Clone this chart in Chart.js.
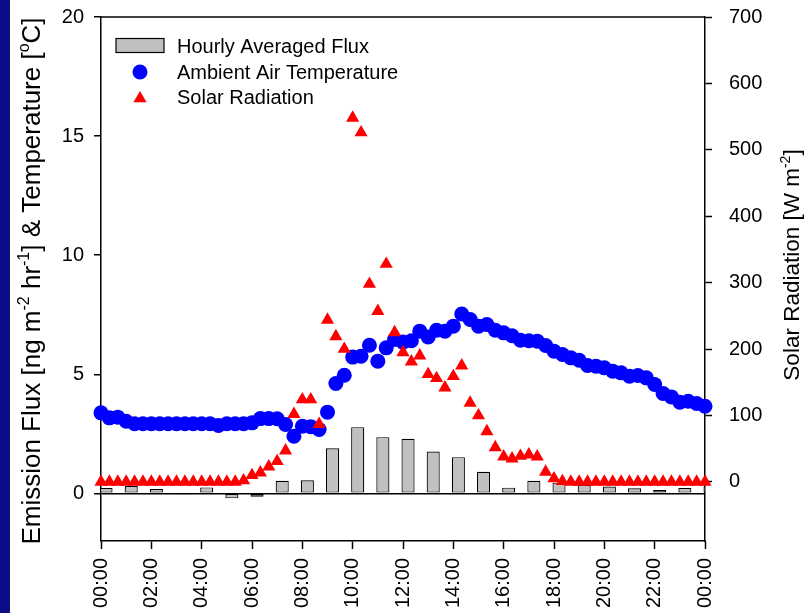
<!DOCTYPE html>
<html lang="en">
<head>
<meta charset="UTF-8">
<title>Emission Flux, Air Temperature and Solar Radiation</title>
<script src="https://cdn.jsdelivr.net/npm/chart.js@4/dist/chart.umd.min.js"></script>
<style>
  html, body { margin: 0; padding: 0; background: #fff; }
  canvas { display: block; }
</style>
</head>
<body>
<canvas id="fluxChart" width="808" height="613"></canvas>
<script>
// Hourly averaged emission flux, one bar per hour from 00:00 (ng m-2 hr-1)
const hourlyFlux = [0.22, 0.31, 0.18, -0.04, 0.25, -0.21, -0.14, 0.53, 0.55, 1.89,
                    2.78, 2.36, 2.29, 1.76, 1.52, 0.91, 0.24, 0.53, 0.45, 0.35,
                    0.29, 0.21, 0.14, 0.22, 0.30];

// 20-minute readings, 00:00 through 24:00
const airTemp = [3.38, 3.17, 3.20, 3.03, 2.92, 2.92, 2.92, 2.92, 2.92, 2.92,
                 2.92, 2.92, 2.92, 2.92, 2.85, 2.92, 2.92, 2.92, 2.96, 3.14,
                 3.14, 3.13, 2.89, 2.40, 2.82, 2.80, 2.68, 3.41, 4.61, 4.96,
                 5.72, 5.76, 6.22, 5.55, 6.11, 6.46, 6.35, 6.41, 6.81, 6.57,
                 6.85, 6.81, 7.02, 7.53, 7.30, 7.02, 7.09, 6.85, 6.74, 6.62,
                 6.43, 6.41, 6.39, 6.21, 5.97, 5.83, 5.69, 5.59, 5.37, 5.34,
                 5.27, 5.13, 5.06, 4.92, 4.95, 4.85, 4.57, 4.19, 4.05, 3.83,
                 3.87, 3.77, 3.66];

const solarRad = [0, 0, 0, 0, 0, 0, 0, 0, 0, 0,
                  0, 0, 0, 0, 0, 0, 0, 2, 10, 14,
                  23, 31, 47, 102, 124, 124, 87, 244, 219, 200,
                  548, 526, 298, 257, 328, 225, 195, 181, 190, 162,
                  156, 142, 159, 175, 119, 100, 76, 52, 38, 35,
                  39, 41, 38, 15, 5, 1, 0, 0, 0, 0,
                  0, 0, 0, 0, 0, 0, 0, 0, 0, 0,
                  0, 0, 0];

const timeLabels = ['00:00', '02:00', '04:00', '06:00', '08:00', '10:00', '12:00',
                    '14:00', '16:00', '18:00', '20:00', '22:00', '00:00'];

const STEP_H = 1 / 3;      // reading interval, hours
const BAR_SHIFT_H = 0.2;   // bars sit just after the hour mark
const FONT = '"Liberation Sans", Arial, sans-serif';

const barPoints = hourlyFlux.map((v, h) => ({ x: h + BAR_SHIFT_H, y: v }));
const tempPoints = airTemp.map((v, i) => ({ x: i * STEP_H, y: v }));
const solarPoints = solarRad.map((v, i) => ({ x: i * STEP_H, y: v }));

Chart.defaults.font.family = FONT;
Chart.defaults.font.size = 20;
Chart.defaults.color = '#000';

// white page with the navy strip down the left edge
const pageBackground = {
    id: 'pageBackground',
    beforeDraw(chart) {
        const ctx = chart.ctx;
        ctx.save();
        ctx.fillStyle = '#fff';
        ctx.fillRect(0, 0, chart.width, chart.height);
        ctx.fillStyle = '#0d0d8a';
        ctx.fillRect(0, 0, 10, chart.height);
        ctx.restore();
    },
    beforeDatasetsDraw(chart) {
        // closing line along the top of the plot box
        const { ctx, chartArea: a } = chart;
        ctx.save();
        ctx.strokeStyle = '#000';
        ctx.lineWidth = 1.5;
        ctx.beginPath();
        ctx.moveTo(a.left, a.top);
        ctx.lineTo(a.right, a.top);
        ctx.stroke();
        ctx.restore();
    }
};

// rotated axis title with superscript pieces: parts = [[text, isSup], ...]
function drawVerticalTitle(ctx, parts, baselineX, centerY, size) {
    const supSize = Math.round(size * 0.62);
    const widths = parts.map(([t, sup]) => {
        ctx.font = (sup ? supSize : size) + 'px ' + FONT;
        return ctx.measureText(t).width;
    });
    const total = widths.reduce((a, b) => a + b, 0);
    ctx.save();
    ctx.translate(baselineX, centerY);
    ctx.rotate(-Math.PI / 2);
    ctx.fillStyle = '#000';
    ctx.textBaseline = 'alphabetic';
    ctx.textAlign = 'left';
    let x = -total / 2;
    parts.forEach(([t, sup], i) => {
        ctx.font = (sup ? supSize : size) + 'px ' + FONT;
        ctx.fillText(t, x, sup ? -size * 0.4 : 0);
        x += widths[i];
    });
    ctx.restore();
}

const axisTitles = {
    id: 'axisTitles',
    afterDraw(chart) {
        const ctx = chart.ctx;
        drawVerticalTitle(ctx, [
            ['Emission Flux [ng m', false], ['-2', true], [' hr', false], ['-1', true],
            ['] & Temperature [', false], ['o', true], ['C]', false]
        ], 39.5, 281, 26);
        drawVerticalTitle(ctx, [
            ['Solar Radiation [W m', false], ['-2', true], [']', false]
        ], 799, 265, 22.5);
    }
};

// legend box in the upper-left corner of the plot
const insetLegend = {
    id: 'insetLegend',
    afterDraw(chart) {
        const ctx = chart.ctx;
        const byLabel = {};
        chart.data.datasets.forEach(d => { byLabel[d.label] = d; });
        const flux = byLabel['Hourly Averaged Flux'];
        const temp = byLabel['Ambient Air Temperature'];
        const solar = byLabel['Solar Radiation'];
        const symX = 140, textX = 177;

        ctx.save();
        // bar swatch
        ctx.fillStyle = flux.backgroundColor;
        ctx.fillRect(116, 38.5, 48, 14);
        ctx.strokeStyle = '#000';
        ctx.lineWidth = 1.2;
        ctx.strokeRect(116, 38.5, 48, 14);

        // circle
        ctx.fillStyle = temp.backgroundColor;
        ctx.beginPath();
        ctx.arc(symX, 72, temp.pointRadius, 0, Math.PI * 2);
        ctx.fill();

        // triangle, same geometry as the chart's triangle points
        const r = solar.pointRadius;
        const cy = 98.5;
        ctx.fillStyle = solar.backgroundColor;
        ctx.beginPath();
        ctx.moveTo(symX, cy - r);
        ctx.lineTo(symX + r * Math.sqrt(3) / 2, cy + r / 2);
        ctx.lineTo(symX - r * Math.sqrt(3) / 2, cy + r / 2);
        ctx.closePath();
        ctx.fill();

        ctx.fillStyle = '#000';
        ctx.font = '20px ' + FONT;
        ctx.textBaseline = 'alphabetic';
        ctx.textAlign = 'left';
        ctx.fillText(flux.label, textX, 52.5);
        ctx.fillText(temp.label, textX, 78.5);
        ctx.fillText(solar.label, textX, 104);
        ctx.restore();
    }
};

const axisLine = { color: '#000', width: 1.5 };

// fixed axis box sizes; drop the label overhang so the plot box keeps its place
function fixWidth(w) {
    return s => {
        s.width = w;
        s.paddingTop = 0;
        s.paddingBottom = 0;
    };
}

new Chart(document.getElementById('fluxChart'), {
    type: 'bar',
    data: {
        datasets: [
            {
                type: 'scatter',
                label: 'Solar Radiation',
                data: solarPoints,
                yAxisID: 'ySolar',
                pointStyle: 'triangle',
                pointRadius: 7.6,
                backgroundColor: '#ff0000',
                borderWidth: 0,
                clip: false,
                order: 1
            },
            {
                type: 'scatter',
                label: 'Ambient Air Temperature',
                data: tempPoints,
                yAxisID: 'y',
                pointStyle: 'circle',
                pointRadius: 7.5,
                backgroundColor: '#0000ff',
                borderWidth: 0,
                clip: false,
                order: 2
            },
            {
                type: 'bar',
                label: 'Hourly Averaged Flux',
                data: barPoints,
                yAxisID: 'y',
                backgroundColor: '#c0c0c0',
                borderColor: '#000',
                borderWidth: 1.2,
                borderSkipped: false,
                categoryPercentage: 1,
                barPercentage: 0.52,
                clip: 0,
                order: 3
            }
        ]
    },
    options: {
        responsive: false,
        animation: false,
        layout: { padding: { top: 17, left: 0, right: 0, bottom: 0 } },
        plugins: {
            legend: { display: false },
            tooltip: { enabled: false }
        },
        scales: {
            x: {
                type: 'linear',
                position: 'bottom',
                min: 0,
                max: 24,
                offset: false,
                ticks: {
                    stepSize: 2,
                    minRotation: 90,
                    maxRotation: 90,
                    autoSkip: false,
                    padding: 9,
                    callback: v => timeLabels[Math.round(v / 2)]
                },
                grid: { drawOnChartArea: false, offset: false, tickLength: 8, tickColor: '#000', tickWidth: 1.5 },
                border: axisLine,
                afterFit: s => { s.height = 72; }
            },
            y: {
                position: 'left',
                min: -2,
                max: 20,
                ticks: { stepSize: 5, padding: 10 },
                grid: {
                    color: c => (c.tick && c.tick.value === 0) ? '#000' : 'rgba(0,0,0,0)',
                    lineWidth: 1.5,
                    tickLength: 7,
                    tickColor: '#000',
                    tickWidth: 1.5
                },
                border: axisLine,
                afterBuildTicks: s => { s.ticks = s.ticks.filter(t => t.value >= 0); },
                afterFit: fixWidth(101)
            },
            ySolar: {
                position: 'right',
                min: -89,
                max: 700,
                ticks: { stepSize: 100, padding: 17 },
                grid: { drawOnChartArea: false, tickLength: 7, tickColor: '#000', tickWidth: 1.5 },
                border: axisLine,
                afterBuildTicks: s => { s.ticks = s.ticks.filter(t => t.value >= 0); },
                afterFit: fixWidth(103)
            }
        }
    },
    plugins: [pageBackground, axisTitles, insetLegend]
});
</script>
</body>
</html>
